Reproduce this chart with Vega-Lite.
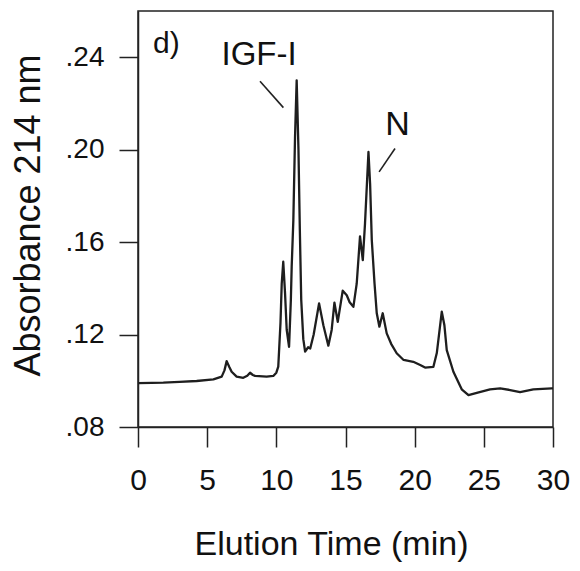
{
  "$schema": "https://vega.github.io/schema/vega-lite/v6.json",
  "width": 415,
  "height": 416,
  "autosize": {"type": "none"},
  "padding": {"left": 138, "top": 11, "right": 27, "bottom": 144},
  "background": "white",
  "config": {
    "view": {"stroke": "#222", "strokeWidth": 1.5},
    "font": "Liberation Sans",
    "axis": {"grid": false, "domainColor": "#222", "domainWidth": 1.5, "tickColor": "#222", "tickWidth": 1.5, "labelColor": "#111", "titleColor": "#111", "labelFont": "Liberation Sans", "titleFont": "Liberation Sans", "titleFontWeight": "normal"}
  },
  "datasets": {
    "trace": [
      {"t": 0, "a": 0.0990}, {"t": 1.0, "a": 0.0991}, {"t": 1.83, "a": 0.0992}, {"t": 3.0, "a": 0.0995},
      {"t": 4.24, "a": 0.0999}, {"t": 5.45, "a": 0.1006}, {"t": 6.05, "a": 0.1018}, {"t": 6.25, "a": 0.1045},
      {"t": 6.41, "a": 0.1085}, {"t": 6.6, "a": 0.1060}, {"t": 6.77, "a": 0.1039}, {"t": 7.13, "a": 0.1018},
      {"t": 7.61, "a": 0.1013}, {"t": 7.9, "a": 0.1022}, {"t": 8.1, "a": 0.1035}, {"t": 8.3, "a": 0.1025},
      {"t": 8.46, "a": 0.1021}, {"t": 9.3, "a": 0.1018}, {"t": 9.78, "a": 0.1021}, {"t": 10.0, "a": 0.1035},
      {"t": 10.14, "a": 0.1061}, {"t": 10.3, "a": 0.125}, {"t": 10.39, "a": 0.142}, {"t": 10.5, "a": 0.1515},
      {"t": 10.63, "a": 0.1378}, {"t": 10.75, "a": 0.122}, {"t": 10.92, "a": 0.1147}, {"t": 11.05, "a": 0.135},
      {"t": 11.11, "a": 0.1493}, {"t": 11.23, "a": 0.1695}, {"t": 11.35, "a": 0.205}, {"t": 11.47, "a": 0.230},
      {"t": 11.6, "a": 0.200}, {"t": 11.7, "a": 0.165}, {"t": 11.8, "a": 0.135}, {"t": 11.95, "a": 0.118},
      {"t": 12.08, "a": 0.1126}, {"t": 12.3, "a": 0.1145}, {"t": 12.45, "a": 0.1140}, {"t": 12.7, "a": 0.1200},
      {"t": 13.09, "a": 0.1335}, {"t": 13.4, "a": 0.124}, {"t": 13.76, "a": 0.1152}, {"t": 14.0, "a": 0.122},
      {"t": 14.2, "a": 0.1338}, {"t": 14.44, "a": 0.1255}, {"t": 14.8, "a": 0.139}, {"t": 15.09, "a": 0.137},
      {"t": 15.3, "a": 0.134}, {"t": 15.57, "a": 0.132}, {"t": 15.81, "a": 0.142}, {"t": 16.05, "a": 0.1625},
      {"t": 16.25, "a": 0.1522}, {"t": 16.41, "a": 0.168}, {"t": 16.66, "a": 0.199}, {"t": 16.78, "a": 0.185},
      {"t": 16.9, "a": 0.1609}, {"t": 17.1, "a": 0.142}, {"t": 17.26, "a": 0.1292}, {"t": 17.45, "a": 0.1234},
      {"t": 17.69, "a": 0.1292}, {"t": 17.98, "a": 0.1205}, {"t": 18.3, "a": 0.116}, {"t": 18.7, "a": 0.1119},
      {"t": 19.2, "a": 0.1090}, {"t": 19.9, "a": 0.1082}, {"t": 20.4, "a": 0.1068}, {"t": 20.75, "a": 0.1057},
      {"t": 21.35, "a": 0.1060}, {"t": 21.6, "a": 0.112}, {"t": 21.96, "a": 0.1299}, {"t": 22.15, "a": 0.124},
      {"t": 22.32, "a": 0.1133}, {"t": 22.8, "a": 0.1039}, {"t": 23.4, "a": 0.0963}, {"t": 23.89, "a": 0.0938},
      {"t": 24.49, "a": 0.0948}, {"t": 25.45, "a": 0.0963}, {"t": 26.18, "a": 0.0967}, {"t": 26.9, "a": 0.0960},
      {"t": 27.62, "a": 0.0951}, {"t": 28.58, "a": 0.0963}, {"t": 29.91, "a": 0.0967}, {"t": 30, "a": 0.0967}
    ],
    "labels": [
      {"t": 2.05, "a": 0.2417, "label": "d)", "size": 30},
      {"t": 8.75, "a": 0.2365, "label": "IGF-I", "size": 33},
      {"t": 18.76, "a": 0.2063, "label": "N", "size": 34}
    ],
    "leaders": [
      {"t": 8.82, "a": 0.2296, "t2": 10.51, "a2": 0.2182},
      {"t": 18.58, "a": 0.2005, "t2": 17.43, "a2": 0.1904}
    ]
  },
  "layer": [
    {
      "data": {"name": "trace"},
      "mark": {"type": "line", "color": "#1e1e1e", "strokeWidth": 2.3, "strokeJoin": "round", "clip": true},
      "encoding": {
        "x": {"field": "t", "type": "quantitative", "scale": {"domain": [0, 30], "nice": false, "zero": false},
          "axis": {"values": [0, 5, 10, 15, 20, 25, 30], "tickSize": 20, "labelFontSize": 30, "labelPadding": 18, "labelFlush": false, "labelOverlap": false,
            "title": "Elution Time (min)", "titleFontSize": 34, "titlePadding": 32, "titleX": 193}},
        "y": {"field": "a", "type": "quantitative", "scale": {"domain": [0.08, 0.26], "nice": false, "zero": false},
          "axis": {"values": [0.08, 0.12, 0.16, 0.20, 0.24], "tickSize": 19, "labelFontSize": 28, "labelPadding": 15, "labelFlush": false, "labelOverlap": false,
            "labelExpr": "substring(format(datum.value, '.2f'), 1)",
            "title": "Absorbance 214 nm", "titleFontSize": 36, "titlePadding": 18, "titleY": 204}}
      }
    },
    {
      "data": {"name": "leaders"},
      "mark": {"type": "rule", "color": "#222", "strokeWidth": 1.6},
      "encoding": {
        "x": {"field": "t", "type": "quantitative"},
        "y": {"field": "a", "type": "quantitative"},
        "x2": {"field": "t2"},
        "y2": {"field": "a2"}
      }
    },
    {
      "data": {"name": "labels"},
      "mark": {"type": "text", "baseline": "alphabetic", "align": "center", "color": "#111", "font": "Liberation Sans"},
      "encoding": {
        "x": {"field": "t", "type": "quantitative"},
        "y": {"field": "a", "type": "quantitative"},
        "text": {"field": "label"},
        "size": {"field": "size", "type": "quantitative", "scale": null}
      }
    }
  ]
}
